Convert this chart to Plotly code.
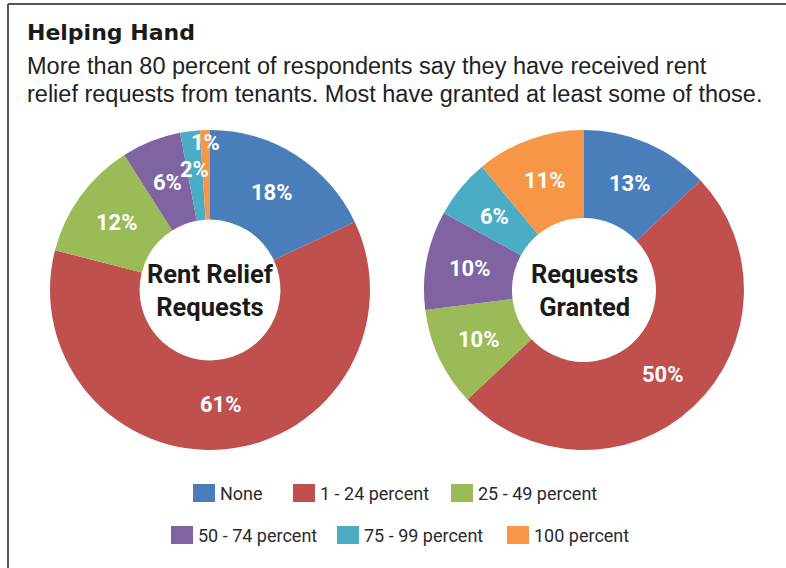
import math
import plotly.graph_objects as go

categories = ["None", "1 - 24 percent", "25 - 49 percent", "50 - 74 percent", "75 - 99 percent", "100 percent"]
relief_requests = [18, 61, 12, 6, 2, 1]
requests_granted = [13, 50, 10, 10, 6, 11]
colors = ["#4a7ebb", "#c0504d", "#9bbb59", "#8064a2", "#4bacc6", "#f79646"]
center_titles = ["Rent Relief<br>Requests", "Requests<br>Granted"]
title_text = "Helping Hand"
subtitle_lines = [
    "More than 80 percent of respondents say they have received rent",
    "relief requests from tenants. Most have granted at least some of those.",
]

W, H = 786, 568
COND = "Roboto, Lato, sans-serif"
SANS = "Liberation Sans, Arial, Helvetica, sans-serif"
HEAVY = "DejaVu Sans, sans-serif"

def px(x):
    return x / W

def py(y):
    return 1 - y / H

fig = go.Figure()

pies = [
    dict(values=relief_requests, cx=210, cy=290, r=160, hole=0.44, title=center_titles[0],
         rfac={4: 1.05, 5: 1.28}),
    dict(values=requests_granted, cx=584, cy=290, r=160, hole=0.45, title=center_titles[1],
         rfac={}),
]

annotations = []
for p in pies:
    cx, cy, r = p["cx"], p["cy"], p["r"]
    fig.add_trace(go.Pie(
        labels=categories, values=p["values"], sort=False, direction="clockwise",
        rotation=0, hole=p["hole"],
        marker=dict(colors=colors, line=dict(color="white", width=0)),
        textinfo="none", showlegend=False, hoverinfo="label+percent",
        domain=dict(x=[px(cx - r), px(cx + r)], y=[py(cy + r), py(cy - r)]),
    ))
    # center text
    annotations.append(dict(
        x=px(cx), y=py(cy), xref="paper", yref="paper", text="<b>%s</b>" % p["title"],
        showarrow=False, font=dict(family=COND, size=25.5, color="#1a1a1a"),
        xanchor="center", yanchor="middle",
    ))
    # slice labels
    total = sum(p["values"])
    cum = 0
    rmid = (p["hole"] * r + r) / 2
    for i, v in enumerate(p["values"]):
        mid = (cum + v / 2) / total * 2 * math.pi
        cum += v
        rr = rmid * p["rfac"].get(i, 1.0)
        lx = cx + rr * math.sin(mid)
        ly = cy - rr * math.cos(mid)
        annotations.append(dict(
            x=px(lx), y=py(ly), xref="paper", yref="paper",
            text="<b>%d%%</b>" % v, showarrow=False,
            font=dict(family=COND, size=22, color="white"),
            xanchor="center", yanchor="middle",
        ))

# title and subtitle
annotations.append(dict(
    x=px(25), y=py(33), xref="paper", yref="paper", text="<b>%s</b>" % title_text,
    showarrow=False, font=dict(family=HEAVY, size=22, color="#1a1a1a"),
    xanchor="left", yanchor="middle", align="left",
))
for k, line in enumerate(subtitle_lines):
    annotations.append(dict(
        x=px(25), y=py(66 + 28 * k), xref="paper", yref="paper", text=line,
        showarrow=False, font=dict(family=SANS, size=23.5, color="#222222"),
        xanchor="left", yanchor="middle", align="left",
    ))

# legend (two rows)
legend_pos = [(193, 493), (293, 493), (451, 493), (171, 535), (337, 535), (507, 535)]
shapes = []
for cat, col, (lx, ly) in zip(categories, colors, legend_pos):
    shapes.append(dict(type="rect", xref="paper", yref="paper",
                       x0=px(lx), x1=px(lx + 22), y0=py(ly + 9), y1=py(ly - 9),
                       fillcolor=col, line=dict(width=0)))
    annotations.append(dict(
        x=px(lx + 25), y=py(ly), xref="paper", yref="paper", text=cat,
        showarrow=False, font=dict(family=COND, size=18, color="#2a2a2a"),
        xanchor="left", yanchor="middle",
    ))

# frame lines (top and left)
shapes.append(dict(type="line", xref="paper", yref="paper", x0=px(8), x1=1.0, y0=py(4), y1=py(4),
                   line=dict(color="#555555", width=2)))
shapes.append(dict(type="line", xref="paper", yref="paper", x0=px(8), x1=px(8), y0=py(4), y1=0,
                   line=dict(color="#555555", width=2)))

fig.update_layout(
    width=W, height=H, margin=dict(l=0, r=0, t=0, b=0),
    paper_bgcolor="white", plot_bgcolor="white",
    annotations=annotations, shapes=shapes,
)

fig.write_html("out.html")
